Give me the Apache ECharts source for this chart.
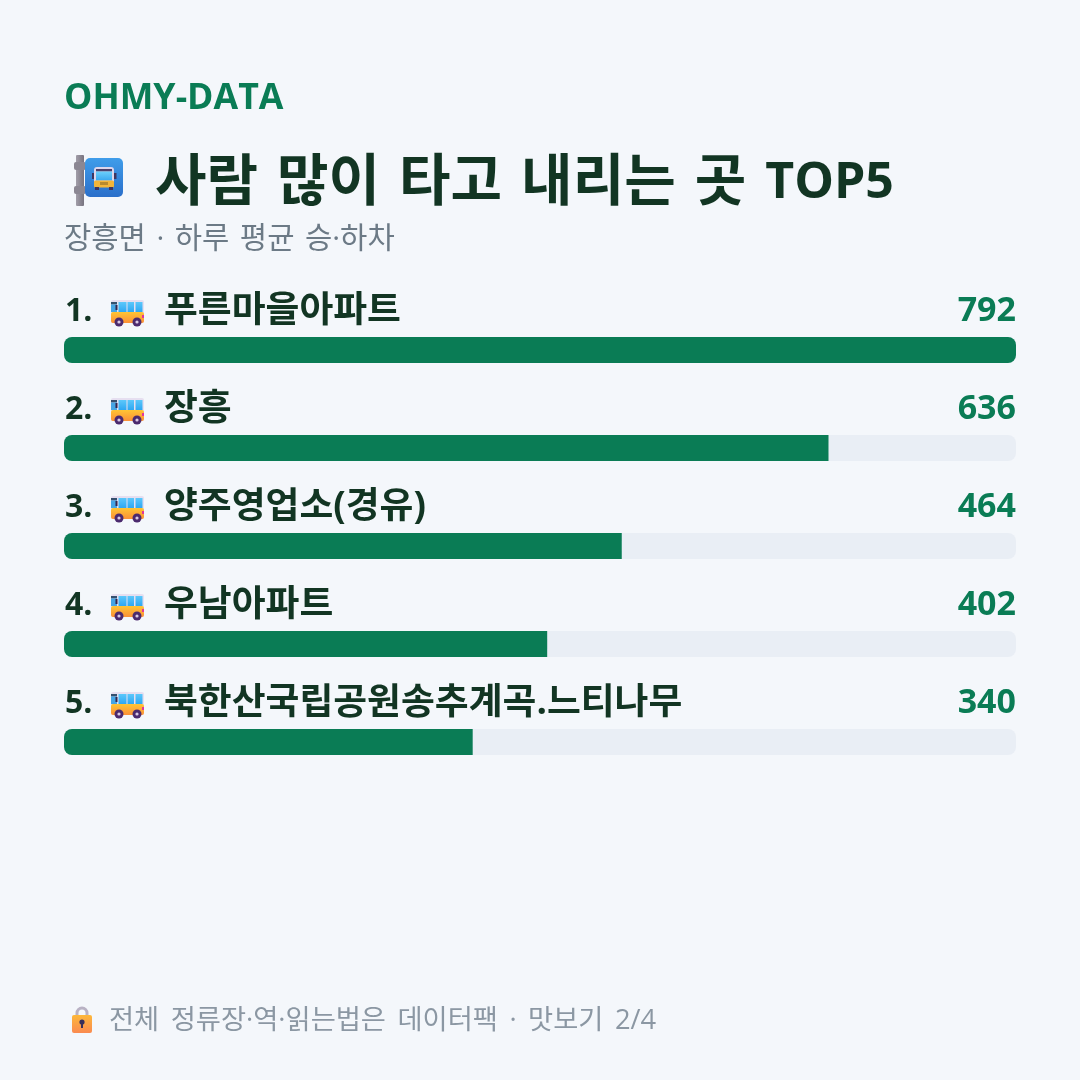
<!DOCTYPE html>
<html lang="ko">
<head>
<meta charset="utf-8">
<style>html,body{margin:0;padding:0;background:#f4f7fb}#c{width:1080px;height:1080px}</style>
<script src="https://cdn.jsdelivr.net/npm/echarts@6/dist/echarts.min.js"></script>
</head>
<body>
<div id="c"></div>
<script>
// Busiest boarding and alighting stops
const stops = ['푸른마을아파트', '장흥', '양주영업소(경유)', '우남아파트', '북한산국립공원송추계곡.느티나무'];
const riders = [792, 636, 464, 402, 340];
const brand = 'OHMY-DATA';
const headingWords = ['사람', '많이', '타고', '내리는', '곳'];
const headingTail = 'TOP5';
const subheadingWords = ['장흥면', '·', '하루', '평균', '승·하차'];
const footnoteWords = ['전체', '정류장·역·읽는법은', '데이터팩', '·', '맛보기', '2/4'];

const FONT = '"Open Sans","Noto Sans CJK KR",sans-serif';
const GREEN = '#0a7c55', INK = '#123523', TRACK = '#e9eef5', BG = '#f4f7fb';
const axisMax = Math.max(...riders);
const track = riders.map(() => axisMax);

const grad = (a, b) => ({type: 'linear', x: 0, y: 0, x2: 0, y2: 1, colorStops: [{offset: 0, color: a}, {offset: 1, color: b}]});
const box = (px, py, w, h, fill, rad) => ({type: 'rect', shape: {x: px, y: py, width: w, height: h, r: rad || 0}, style: {fill}});
const dot = (cx, cy, rr, fill) => ({type: 'circle', shape: {cx, cy, r: rr}, style: {fill}});

// Words joined by a space token, so the gap between words can be set per text block
const spaced = words => words.join('{s| }');

// Small bus pictogram, 33 wide and 27 tall
function busIcon(x, y) {
  const glass = grad('#5cc8fb', '#2ea7f2');
  return {type: 'group', x, y, silent: true, children: [
    box(0, 0, 33, 23, '#e6dff0', 2),
    box(0, 12, 33, 11, grad('#ffc533', '#fb9038'), 2),
    box(0, 2, 6, 2.5, '#35506e'),
    box(0, 4.5, 6, 7.5, '#45a5e4'),
    box(4.5, 5, 2, 5, '#33264f'),
    box(7.5, 2, 8, 10, glass),
    box(16.5, 2, 6.5, 10, glass),
    box(24.5, 2, 7, 10, glass),
    box(31, 15, 2, 3, '#e0379a'),
    dot(8, 22, 4.5, '#4b2a6e'), dot(8, 22, 1.6, '#d9c9e4'),
    dot(26, 22, 4.5, '#4b2a6e'), dot(26, 22, 1.6, '#d9c9e4')
  ]};
}

// Bus-stop sign: grey pole with a blue plate carrying a front-on bus
function stopSign(x, y) {
  return {type: 'group', x, y, silent: true, children: [
    box(2, 0, 8, 51, {type: 'linear', x: 0, y: 0, x2: 1, y2: 0, colorStops: [{offset: 0, color: '#a29ea9'}, {offset: 1, color: '#77737f'}]}, 1),
    box(0, 7, 12, 8, '#8b8793', 2),
    box(0, 31, 12, 8, '#8b8793', 2),
    box(11, 3, 38, 39, grad('#3f9dea', '#2a6fca'), 5),
    box(18, 18, 2.5, 6, '#3d3560'),
    box(40, 18, 2.5, 6, '#3d3560'),
    box(20, 12, 20, 20, '#dcd6ec', 3),
    box(22, 14, 16, 2.5, '#4a3f6b'),
    box(22, 16.5, 16, 9, grad('#6cd0fb', '#3aa8f0')),
    box(20, 25.5, 20, 7, '#f3b53a', 1.5),
    box(26, 27, 8, 3, '#b98a2e'),
    box(21, 32, 4, 3, '#3d3560'),
    box(35, 32, 4, 3, '#3d3560')
  ]};
}

// Padlock in front of the footnote
function padlock(x, y) {
  const metal = {stroke: '#b9b2c4', lineWidth: 3, fill: 'none'};
  return {type: 'group', x, y, silent: true, children: [
    {type: 'arc', shape: {cx: 10, cy: 6, r: 5, startAngle: Math.PI, endAngle: 0}, style: metal},
    {type: 'line', shape: {x1: 5, y1: 6, x2: 5, y2: 9}, style: metal},
    {type: 'line', shape: {x1: 15, y1: 6, x2: 15, y2: 9}, style: metal},
    box(0, 8, 20, 18, grad('#fdb83a', '#fa8a50'), 2),
    dot(10, 15, 2.6, '#38305a'),
    box(9, 15.5, 2, 5.5, '#38305a')
  ]};
}

const chart = echarts.init(document.getElementById('c'), null, {renderer: 'canvas'});
const option = {
  backgroundColor: BG,
  animation: false,
  textStyle: {fontFamily: FONT},
  title: [
    {text: brand, left: 64, top: 81, padding: 0, textStyle: {fontFamily: FONT, fontSize: 35.7, fontWeight: 700, color: GREEN}},
    {
      text: spaced(headingWords) + '{s| }{l|' + headingTail + '}', left: 155, top: 154, padding: 0,
      textStyle: {
        fontFamily: FONT, fontSize: 56, lineHeight: 60, fontWeight: 700, color: INK,
        rich: {
          s: {width: 19, lineHeight: 60},
          l: {fontFamily: FONT, fontSize: 50, lineHeight: 60, fontWeight: 700, color: INK}
        }
      }
    },
    {
      text: spaced(subheadingWords), left: 64, top: 222, padding: 0,
      textStyle: {fontFamily: FONT, fontSize: 29.7, lineHeight: 36, fontWeight: 400, color: '#6c7a86', rich: {s: {width: 10.5, lineHeight: 36}}}
    },
    {
      text: spaced(footnoteWords), left: 109, top: 1004, padding: 0,
      textStyle: {fontFamily: FONT, fontSize: 27.3, lineHeight: 34, fontWeight: 400, color: '#8b97a3', rich: {s: {width: 11.5, lineHeight: 34}}}
    }
  ],
  grid: {left: 64, top: 301, width: 952, height: 490},
  xAxis: {type: 'value', min: 0, max: axisMax, show: false},
  yAxis: {type: 'category', inverse: true, data: stops, show: false},
  series: [
    {
      name: 'track', type: 'bar', data: track, barWidth: 26, barGap: '-100%', silent: true,
      itemStyle: {color: TRACK, borderRadius: 8},
      label: {
        show: true, position: 'insideRight', distance: 0, offset: [0, -39],
        formatter: p => String(riders[p.dataIndex]),
        fontFamily: FONT, fontSize: 34, fontWeight: 700, color: GREEN
      }
    },
    {
      name: 'riders', type: 'bar', barWidth: 26, silent: true,
      // The fill keeps a square end unless it reaches the end of the track
      data: riders.map(v => ({value: v, itemStyle: {borderRadius: v === axisMax ? 8 : [8, 0, 0, 8]}})),
      itemStyle: {color: GREEN},
      label: {
        show: true, position: 'insideLeft', distance: 0, offset: [1, -38],
        formatter: p => `{rank|${p.dataIndex + 1}.}{name|${p.name}}`,
        rich: {
          rank: {fontFamily: FONT, fontSize: 32, lineHeight: 44, fontWeight: 700, color: INK, width: 99},
          name: {fontFamily: FONT, fontSize: 36.8, lineHeight: 44, fontWeight: 700, color: INK}
        }
      }
    }
  ]
};
chart.setOption(option);

// Icons sit on the label row of each bar, so their rows follow the category axis
const icons = stops.map((s, i) => busIcon(111, chart.convertToPixel({yAxisIndex: 0}, i) - 50));
icons.push(stopSign(74, 155), padlock(72, 1007));
chart.setOption({graphic: icons});
</script>
</body>
</html>
